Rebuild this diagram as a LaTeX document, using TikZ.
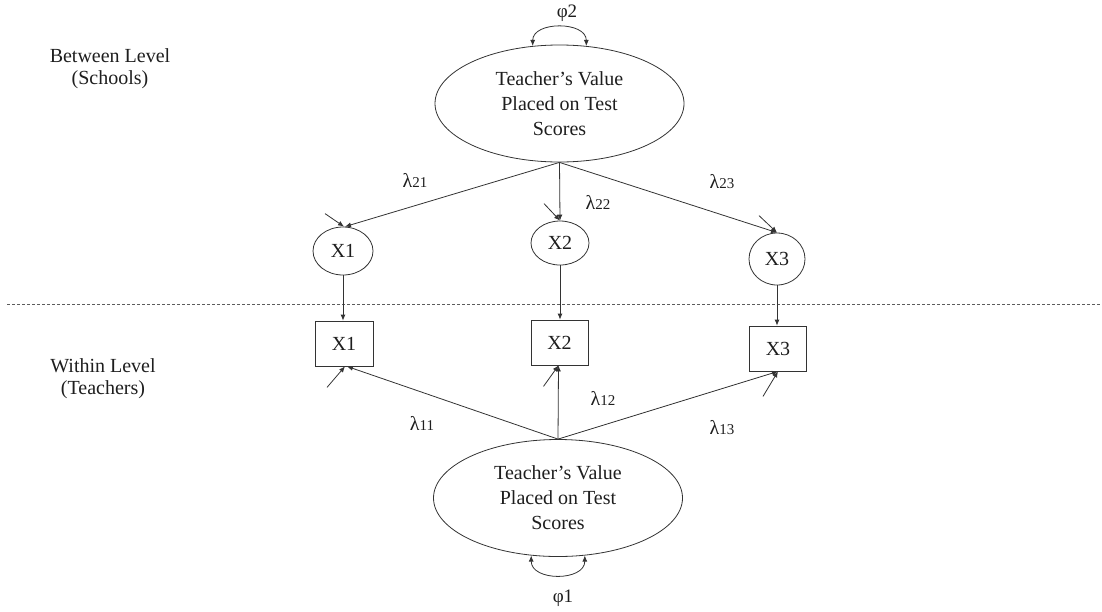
\documentclass[tikz,border=0pt]{standalone}
\usepackage{fontspec}
\setmainfont{Liberation Serif}
\usetikzlibrary{shapes.geometric,arrows.meta}
\definecolor{lineC}{HTML}{333333}
\definecolor{textC}{HTML}{1E1E1E}
\newcommand\lamlab[1]{{\fontsize{20}{20}\selectfont λ}{\fontsize{15}{15}\selectfont #1}}
\begin{document}
\begin{tikzpicture}[x=1pt,y=-1pt,
  lat/.style={ellipse, draw=lineC, line width=0.8pt, minimum width=249pt, minimum height=117pt, inner sep=0pt, align=center, text=textC, font=\fontsize{20}{25}\selectfont},
  circ/.style={ellipse, draw=lineC, line width=0.8pt, inner sep=0pt, text=textC, font=\fontsize{20}{24}\selectfont},
  obs/.style={rectangle, draw=lineC, line width=0.8pt, minimum width=57pt, minimum height=45pt, inner sep=0pt, text=textC, font=\fontsize{20}{24}\selectfont},
  arr/.style={-{Latex[length=6pt,width=5pt]}, draw=lineC, line width=0.8pt},
  dbl/.style={{Latex[length=6pt,width=5pt]}-{Latex[length=6pt,width=5pt]}, draw=lineC, line width=0.8pt},
  lab/.style={inner sep=0pt, text=textC, align=center, font=\fontsize{20}{22}\selectfont},
  sym/.style={inner sep=0pt, text=textC, font=\fontsize{19}{19}\selectfont}
]
\useasboundingbox (0,0) rectangle (1102,611);

% level labels
\node[lab] (between) at (110,69) {Between Level\\(Schools)};
\node[lab] (within) at (103,379) {Within Level\\(Teachers)};

% separator
\coordinate (dl) at (7,304);
\coordinate (dr) at (1100,304);
\draw[lineC!80, line width=0.8pt, dash pattern=on 3pt off 2pt] (dl) -- (dr);

% latent factors
\node[lat] (F2) at (559.5,103.5) {Teacher’s Value\\Placed on Test\\Scores};
\node[lat] (F1) at (558,498) {Teacher’s Value\\Placed on Test\\Scores};

% between-level latent indicators
\node[circ, minimum width=60pt, minimum height=48pt] (X1c) at (343,251) {X1};
\node[circ, minimum width=58pt, minimum height=44pt] (X2c) at (560,243) {X2};
\node[circ, minimum width=56pt, minimum height=52pt] (X3c) at (777,259) {X3};

% within-level observed indicators
\node[obs, minimum width=58pt] (X1b) at (344,343.5) {X1};
\node[obs] (X2b) at (559.5,342.5) {X2};
\node[obs] (X3b) at (778,348.5) {X3};

% variances
\draw[dbl] (F2.115) .. controls +(0,-25) and +(0,-25) .. (F2.65);
\node[sym] (phi2) at (567,13) {φ2};
\draw[dbl] (F1.-115) .. controls +(0,26) and +(0,26) .. (F1.-65);
\node[sym] (phi1) at (563,598) {φ1};

% between loadings
\draw[arr] (F2.south) -- ([xshift=2pt]X1c.north);
\draw[arr] (F2.south) -- (X2c.north);
\draw[arr] (F2.south) -- (X3c.north);
\node[inner sep=0pt, text=textC] (l21) at (415,180) {\lamlab{21}};
\node[inner sep=0pt, text=textC] (l22) at (598,202) {\lamlab{22}};
\node[inner sep=0pt, text=textC] (l23) at (722,182) {\lamlab{23}};

% between residual arrows
\coordinate (u1) at ([shift={(-18,-13)}]X1c.north);
\coordinate (u2) at ([shift={(-16,-17)}]X2c.north);
\coordinate (u3) at ([shift={(-18,-17)}]X3c.north);
\draw[arr] (u1) -- ([xshift=1pt]X1c.north);
\draw[arr] (u2) -- (X2c.north);
\draw[arr] (u3) -- (X3c.north);

% cross-level links
\draw[arr] (X1c.south) -- (X1c.south |- X1b.north);
\draw[arr] (X2c.south) -- (X2c.south |- X2b.north);
\draw[arr] (X3c.south) -- (X3c.south |- X3b.north);

% within loadings
\draw[arr] (F1.north) -- ([xshift=3pt]X1b.south);
\draw[arr] (F1.north) -- ([xshift=-1pt]X2b.south);
\draw[arr] (F1.north) -- (X3b.south);
\node[inner sep=0pt, text=textC] (l11) at (422,423) {\lamlab{11}};
\node[inner sep=0pt, text=textC] (l12) at (603,398) {\lamlab{12}};
\node[inner sep=0pt, text=textC] (l13) at (722,428) {\lamlab{13}};

% within residual arrows
\coordinate (w1) at ([shift={(-17,21)}]X1b.south);
\coordinate (w2) at ([shift={(-16,21)}]X2b.south);
\coordinate (w3) at ([shift={(-15,25)}]X3b.south);
\draw[arr] (w1) -- ([xshift=1pt]X1b.south);
\draw[arr] (w2) -- ([xshift=-1pt]X2b.south);
\draw[arr] (w3) -- (X3b.south);
\end{tikzpicture}
\end{document}
